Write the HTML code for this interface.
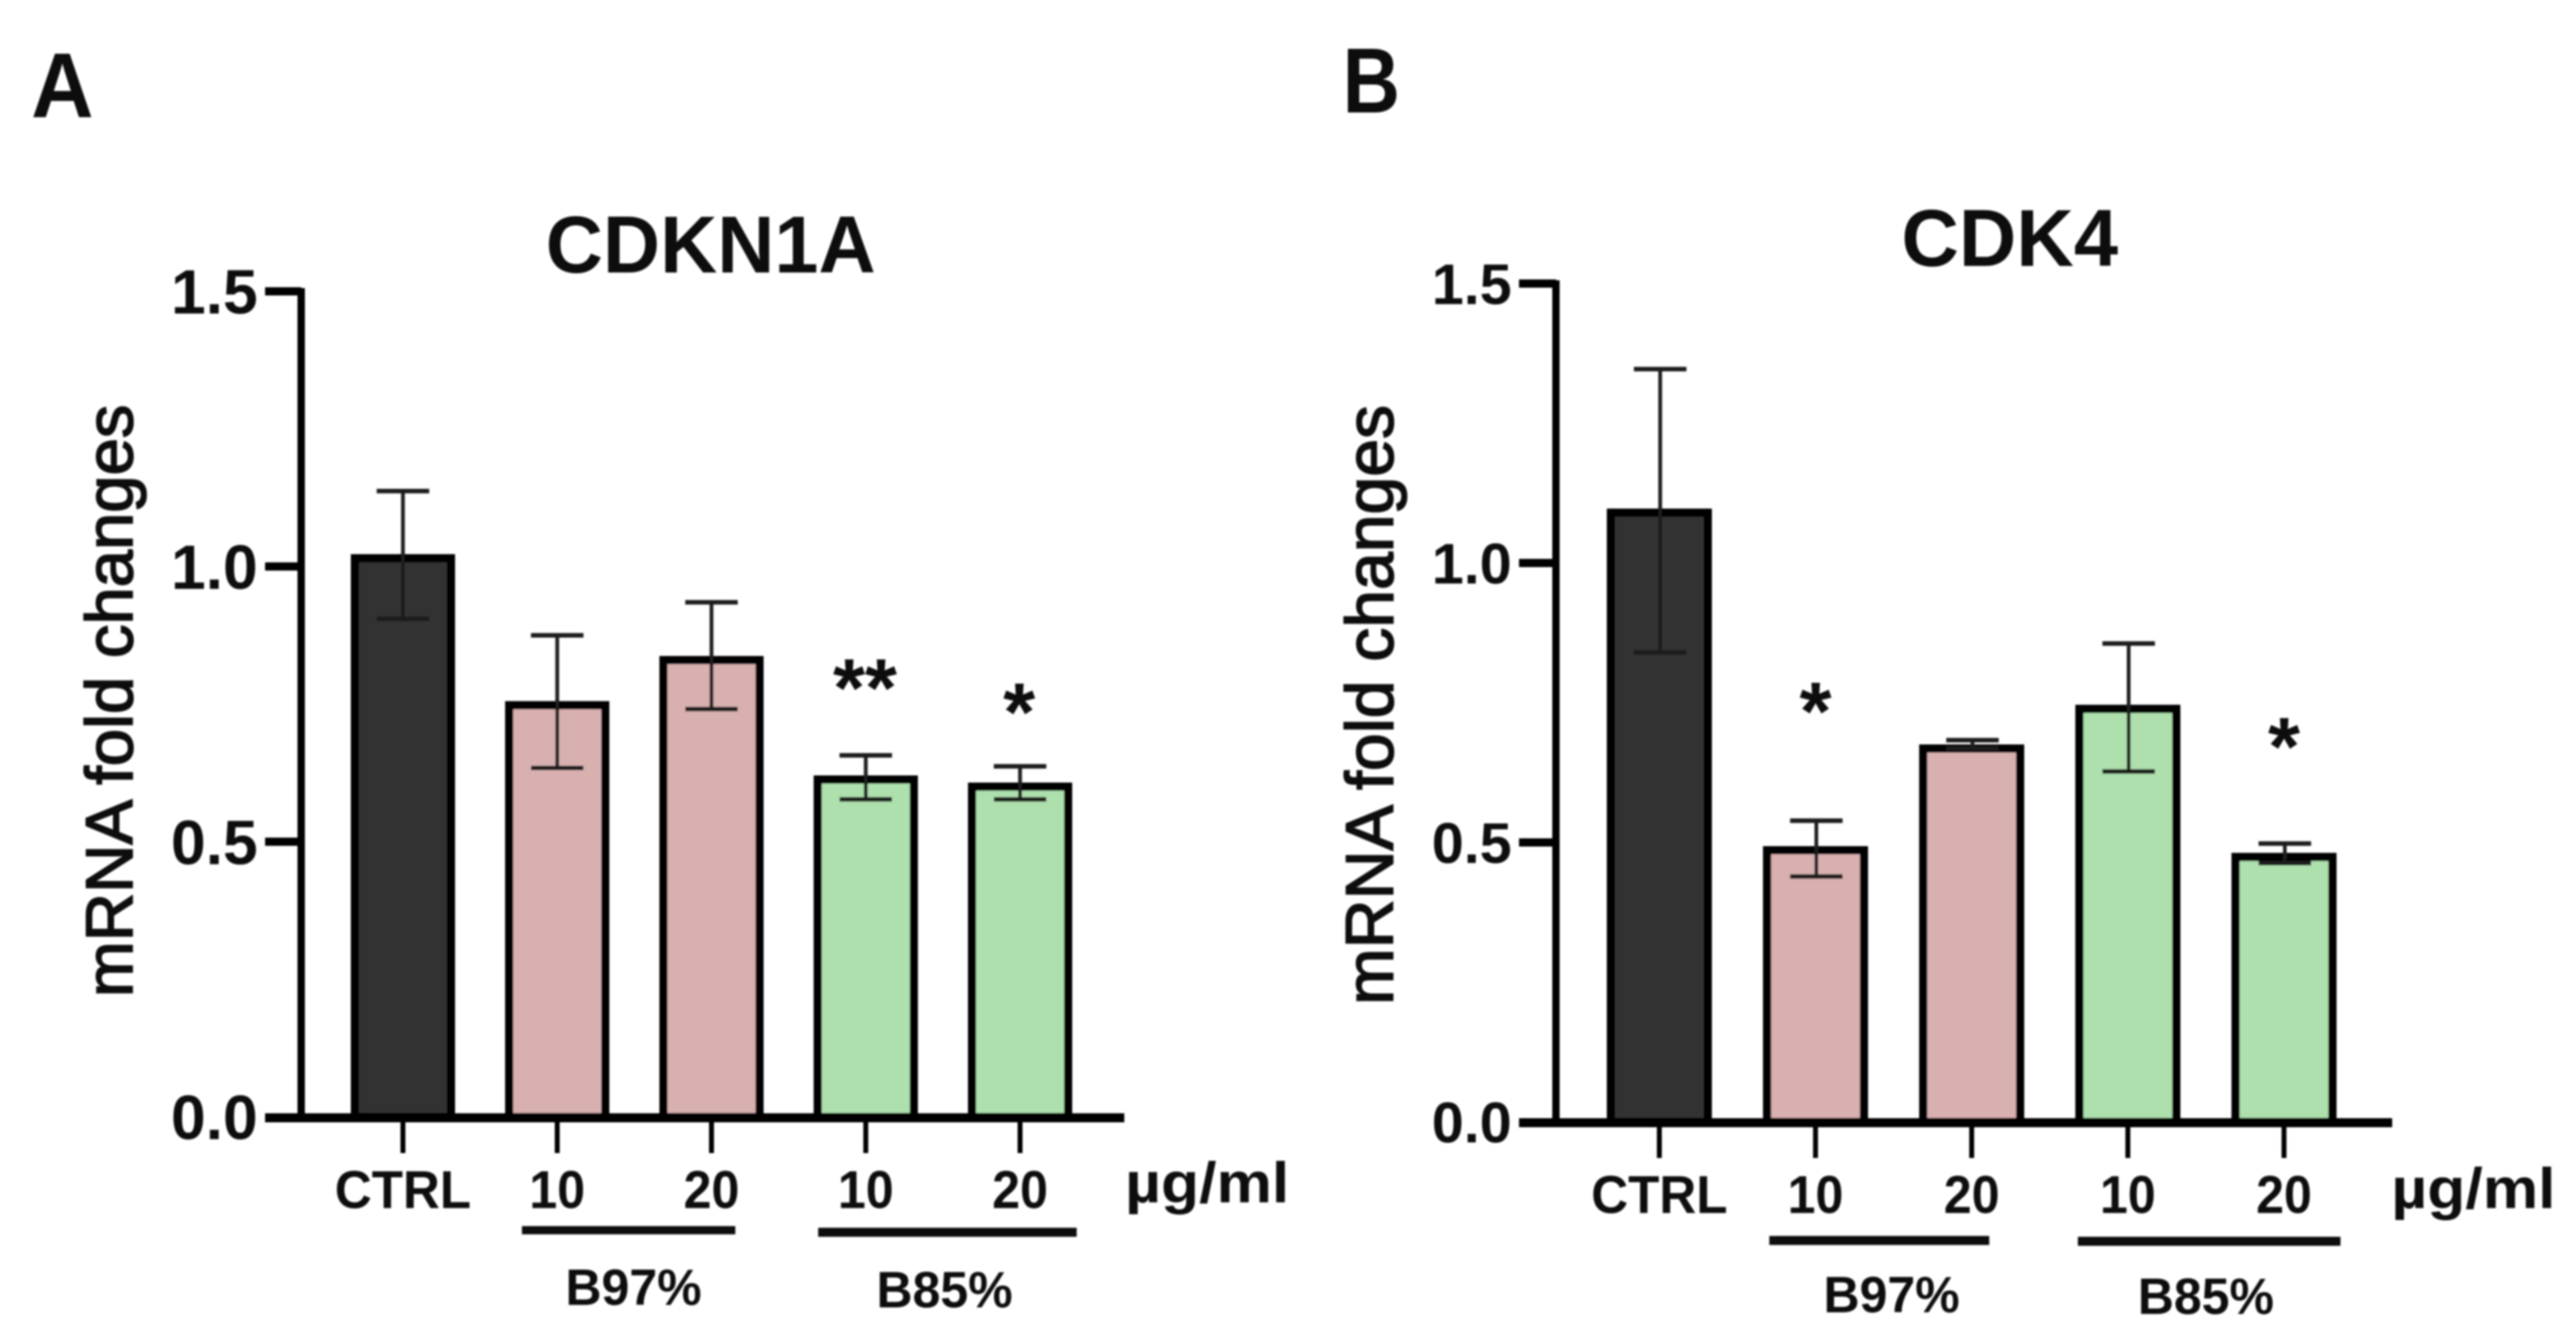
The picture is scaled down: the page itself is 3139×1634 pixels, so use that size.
<!DOCTYPE html>
<html lang="en">
<head>
<meta charset="utf-8">
<title>CDKN1A and CDK4 mRNA fold changes</title>
<style>
  html, body { margin: 0; padding: 0; background: #fff; }
  svg { display: block; }
  text { font-family: "Liberation Sans", Arial, sans-serif; fill: #0a0a0a; }
</style>
</head>
<body>
<svg id="figure" xmlns="http://www.w3.org/2000/svg" width="3139" height="1634" viewBox="0 0 3139 1634">
  <defs>
    <filter id="soft" x="-2%" y="-2%" width="104%" height="104%"><feGaussianBlur stdDeviation="1.1"/></filter>
  </defs>
  <rect x="0" y="0" width="3139" height="1634" fill="#fff"/>
  <g id="canvas" filter="url(#soft)">
    <text x="38" y="143" font-size="112" font-weight="700" textLength="76" lengthAdjust="spacingAndGlyphs">A</text>
    <text x="1636" y="137" font-size="112" font-weight="700" textLength="70" lengthAdjust="spacingAndGlyphs">B</text>
    <text x="866" y="332" font-size="98" font-weight="700" text-anchor="middle" textLength="402" lengthAdjust="spacingAndGlyphs">CDKN1A</text>
    <text x="2449" y="324" font-size="98" font-weight="700" text-anchor="middle" textLength="264" lengthAdjust="spacingAndGlyphs">CDK4</text>
    <text transform="translate(161 854) rotate(-90)" font-size="81" text-anchor="middle" stroke="#0a0a0a" stroke-width="2" textLength="722" lengthAdjust="spacingAndGlyphs">mRNA fold changes</text>
    <text transform="translate(1697 859) rotate(-90)" font-size="82" text-anchor="middle" stroke="#0a0a0a" stroke-width="2" textLength="731" lengthAdjust="spacingAndGlyphs">mRNA fold changes</text>
    <text x="1371" y="1465" font-size="70" font-weight="700" textLength="200" lengthAdjust="spacingAndGlyphs">µg/ml</text>
    <text x="2914" y="1472" font-size="70" font-weight="700" textLength="200" lengthAdjust="spacingAndGlyphs">µg/ml</text>
    <rect x="636" y="1494" width="260" height="10" fill="#0a0a0a"/>
    <rect x="997" y="1496" width="315" height="11" fill="#0a0a0a"/>
    <rect x="2156" y="1506" width="268" height="11" fill="#0a0a0a"/>
    <rect x="2532" y="1507" width="320" height="11" fill="#0a0a0a"/>
    <text x="772" y="1590" font-size="62" font-weight="700" text-anchor="middle" textLength="166" lengthAdjust="spacingAndGlyphs">B97%</text>
    <text x="1151" y="1593" font-size="62" font-weight="700" text-anchor="middle" textLength="166" lengthAdjust="spacingAndGlyphs">B85%</text>
    <text x="2305" y="1599" font-size="62" font-weight="700" text-anchor="middle" textLength="166" lengthAdjust="spacingAndGlyphs">B97%</text>
    <text x="2688" y="1601" font-size="62" font-weight="700" text-anchor="middle" textLength="166" lengthAdjust="spacingAndGlyphs">B85%</text>
  </g>
</svg>
<script>
// Shared categories and ticks
const categories = ['CTRL', '10', '20', '10', '20'];
const tickValues = [0, 0.5, 1.0, 1.5];
const tickLabels = ['0.0', '0.5', '1.0', '1.5'];
const barKinds = ['control', 'b97', 'b97', 'b85', 'b85'];

// Panel A: CDKN1A
const cdkn1aMeans = [1.015, 0.748, 0.83, 0.613, 0.60];
const cdkn1aUpper = [1.137, 0.875, 0.935, 0.657, 0.637];
const cdkn1aLower = [0.905, 0.634, 0.741, 0.577, 0.577];
const cdkn1aStars = ['', '', '', '**', '*'];
const cdkn1aStarLevels = [0, 0, 0, 0.728, 0.684];

// Panel B: CDK4
const cdk4Means = [1.09, 0.486, 0.668, 0.739, 0.474];
const cdk4Upper = [1.347, 0.539, 0.683, 0.856, 0.498];
const cdk4Lower = [0.84, 0.439, 0.668, 0.627, 0.463];
const cdk4Stars = ['', '*', '', '', '*'];
const cdk4StarLevels = [0, 0.684, 0, 0, 0.621];

const NS = 'http://www.w3.org/2000/svg';
const canvas = document.getElementById('canvas');
const fills = { control: '#333333', b97: '#d8b0b0', b85: '#aee0ae' };

function make(tag, attrs, text) {
  const el = document.createElementNS(NS, tag);
  for (const k in attrs) el.setAttribute(k, attrs[k]);
  if (text !== undefined) el.textContent = text;
  canvas.appendChild(el);
  return el;
}

function drawPanel(p) {
  const y = v => p.y0 - v * p.pxPerUnit;
  const x = i => p.x0 + i * p.step;

  // bars
  p.means.forEach((m, i) => {
    const bar = make('rect', { x: x(i) - p.barW / 2, y: y(m), width: p.barW, height: p.y0 - y(m), fill: fills[barKinds[i]], stroke: '#000', 'stroke-width': 10 });
    
    
  });

  // error bars
  p.means.forEach((m, i) => {
    const ex = x(i) + p.errShift;
    const stem = make('line', { x1: ex, x2: ex, y1: y(p.upper[i]), y2: y(p.lower[i]), stroke: '#1a1a1a', 'stroke-width': 4.5 });
    
    
    const capTop = make('line', { x1: ex - p.capW / 2, x2: ex + p.capW / 2, y1: y(p.upper[i]), y2: y(p.upper[i]), stroke: '#1a1a1a', 'stroke-width': 5.5 });
    
    
    const capBottom = make('line', { x1: ex - p.capW / 2, x2: ex + p.capW / 2, y1: y(p.lower[i]), y2: y(p.lower[i]), stroke: '#1a1a1a', 'stroke-width': 5.5 });
    
    
  });

  // axes
  const yAxis = make('line', { x1: p.axisX, x2: p.axisX, y1: y(1.5) - 4, y2: p.y0 + 5, stroke: '#000', 'stroke-width': 9 });
  
  
  const xAxis = make('line', { x1: p.axisLeft, x2: p.axisRight, y1: p.y0 + 1, y2: p.y0 + 1, stroke: '#000', 'stroke-width': 11 });
  
  

  // y ticks
  tickValues.forEach((v, i) => {
    if (v > 0) {
      const t = make('line', { x1: p.axisLeft, x2: p.axisX, y1: y(v), y2: y(v), stroke: '#000', 'stroke-width': 10 });
      
      
    }
    const lab = make('text', { x: p.labelRight, y: y(v) + p.tickFont * 0.358, 'font-size': p.tickFont, 'font-weight': 700, 'text-anchor': 'end' }, tickLabels[i]);
    
    
  });

  // x ticks and labels
  categories.forEach((c, i) => {
    const t = make('line', { x1: x(i), x2: x(i), y1: p.y0 + 4, y2: p.y0 + 44, stroke: '#000', 'stroke-width': 6 });
    
    
    const lab = make('text', { x: x(i), y: p.catBase, 'font-size': 65, 'font-weight': 700, 'text-anchor': 'middle', textLength: i === 0 ? 166 : 68, lengthAdjust: 'spacingAndGlyphs' }, c);
    
    
  });

  // significance stars
  p.stars.forEach((s, i) => {
    if (!s) return;
    const star = make('text', { x: x(i) + p.errShift - 1, y: y(p.starLevels[i]), 'font-size': 100, 'font-weight': 700, 'text-anchor': 'middle' }, s);
    
    
  });
}

drawPanel({ id: 'a', means: cdkn1aMeans, upper: cdkn1aUpper, lower: cdkn1aLower, stars: cdkn1aStars, starLevels: cdkn1aStarLevels,
  y0: 1361, pxPerUnit: 670.7, x0: 491, step: 188, barW: 117, capW: 64, errShift: 0,
  axisX: 367, axisLeft: 323, axisRight: 1370, labelRight: 314, tickFont: 76, catBase: 1472 });
drawPanel({ id: 'b', means: cdk4Means, upper: cdk4Upper, lower: cdk4Lower, stars: cdk4Stars, starLevels: cdk4StarLevels,
  y0: 1367, pxPerUnit: 681, x0: 2022, step: 190.3, barW: 118, capW: 64, errShift: 1,
  axisX: 1896, axisLeft: 1851, axisRight: 2915, labelRight: 1842, tickFont: 70, catBase: 1478 });
</script>
</body>
</html>
